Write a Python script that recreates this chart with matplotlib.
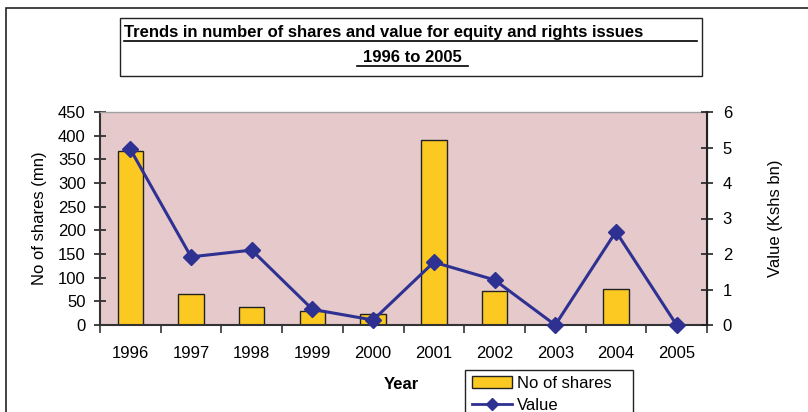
import numpy as np
import matplotlib.pyplot as plt
from matplotlib.patches import Rectangle
from matplotlib.lines import Line2D

plt.rcParams['font.family'] = ['Liberation Sans', 'DejaVu Sans']

# data
years = ['1996', '1997', '1998', '1999', '2000', '2001', '2002', '2003', '2004', '2005']
shares = [368, 65, 38, 30, 23, 391, 72, 0, 77, 0]          # No of shares (mn)
value = [4.95, 1.92, 2.11, 0.44, 0.14, 1.77, 1.27, 0.0, 2.63, 0.0]  # Value (Kshs bn)

W, H = 808, 412
fig = plt.figure(figsize=(W / 100, H / 100), dpi=100)

def fx(px):
    return px / W

def fy(py):
    return 1 - py / H

# outer chart border (cut off at right and bottom)
fig.patches.append(Rectangle((fx(6), fy(430)), fx(820), fy(8) - fy(430),
                             transform=fig.transFigure, fill=False,
                             edgecolor='#222222', lw=1.2))

# title box
fig.patches.append(Rectangle((fx(120), fy(76)), fx(702) - fx(120), fy(18) - fy(76),
                             transform=fig.transFigure, fill=False,
                             edgecolor='#222222', lw=1.0))
fig.text(fx(124), fy(32), 'Trends in number of shares and value for equity and rights issues',
         ha='left', va='center', fontsize=12, fontweight='bold')
fig.add_artist(Line2D([fx(124), fx(697)], [fy(41), fy(41)], transform=fig.transFigure,
                      color='black', lw=1.2))
fig.text(fx(412), fy(57), '1996 to 2005', ha='center', va='center',
         fontsize=12, fontweight='bold')
fig.add_artist(Line2D([fx(357), fx(468)], [fy(66), fy(66)], transform=fig.transFigure,
                      color='black', lw=1.2))

# plot area
ax = fig.add_axes([fx(100), fy(325), fx(707) - fx(100), fy(112) - fy(325)])
ax.set_facecolor('#e5c9cb')
x = np.arange(len(years))
ax.bar(x, shares, width=0.42, color='#fcc922', edgecolor='#222222', lw=1.0,
       label='No of shares', zorder=2)
ax.set_xlim(-0.5, len(years) - 0.5)
ax.set_ylim(0, 450)
ax.set_yticks(np.arange(0, 451, 50))
ax.set_xticks(x)
ax.set_xticklabels(years)
ax.set_xticks(np.arange(-0.5, len(years), 1), minor=True)
ax.tick_params(axis='x', which='major', length=0, pad=15, labelsize=12)
ax.tick_params(axis='x', which='minor', length=6, direction='out', color='#333333', width=1.2)
ax.tick_params(axis='y', length=8.5, direction='inout', color='#222222', width=1.2,
               labelsize=12, pad=6)
ax.set_ylabel('No of shares (mn)', fontsize=12, labelpad=8)
ax.set_xlabel('Year', fontsize=12, fontweight='bold')
ax.xaxis.set_label_coords(0.497, -0.245)
for s in ['left', 'bottom']:
    ax.spines[s].set_color('#333333')
    ax.spines[s].set_linewidth(1.5)
ax.spines['top'].set_color('#a0a0a0')
ax.spines['top'].set_linewidth(1.0)

ax2 = ax.twinx()
ax2.plot(x, value, color='#2e3192', lw=2.2, marker='D', markersize=8,
         label='Value', clip_on=False, zorder=3)
ax2.set_ylim(0, 6)
ax2.set_yticks(range(0, 7))
ax2.tick_params(axis='y', length=8.5, direction='inout', color='#222222', width=1.2,
                labelsize=12, pad=7)
ax2.set_ylabel('Value (Kshs bn)', fontsize=12, labelpad=26)
ax2.spines['right'].set_color('#222222')
ax2.spines['right'].set_linewidth(1.5)
ax2.spines['top'].set_visible(False)
ax2.spines['left'].set_visible(False)
ax2.spines['bottom'].set_visible(False)

# legend (frame drawn separately so it matches the wider box)
handles = [Rectangle((0, 0), 1, 1, facecolor='#fcc922', edgecolor='#222222', lw=1.0),
           Line2D([], [], color='#2e3192', lw=2, marker='D', markersize=6)]
fig.legend(handles, ['No of shares', 'Value'], loc='upper left',
           bbox_to_anchor=(fx(467), fy(371)), fontsize=12, frameon=False,
           borderpad=0.3, handlelength=2.4, handletextpad=0.3,
           labelspacing=0.42, borderaxespad=0)
fig.patches.append(Rectangle((fx(465), fy(430)), fx(633) - fx(465), fy(370) - fy(430),
                             transform=fig.transFigure, fill=False,
                             edgecolor='#222222', lw=1.0))

plt.savefig('out.png', dpi=100)
